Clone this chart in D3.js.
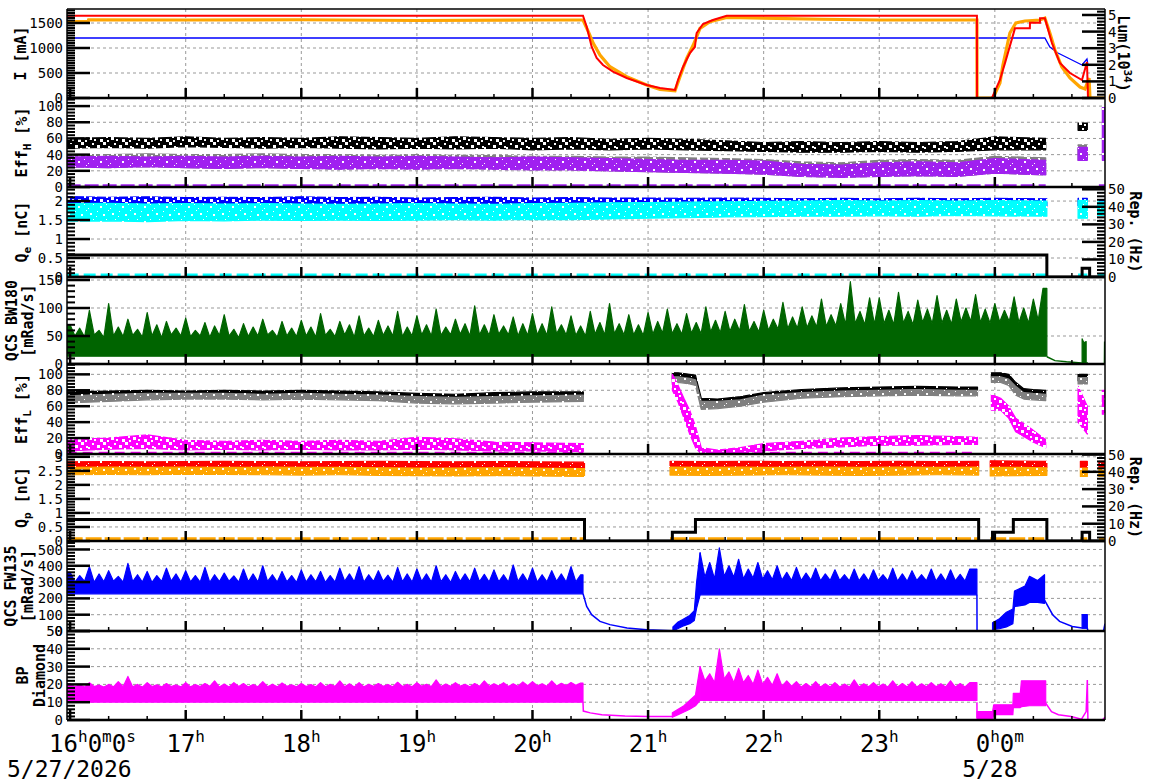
<!DOCTYPE html>
<html>
<head>
<meta charset="utf-8">
<script src="https://cdn.jsdelivr.net/npm/d3@7"></script>
<style>
body { margin: 0; background: #fff; }
svg { display: block; font-family: "DejaVu Sans Mono", monospace; }
</style>
</head>
<body>
<svg id="chart" width="1172" height="782"></svg>
<script>
// time is given in hours after 16:00 on 5/27/2026

// x axis labels
var hourTicks = [0, 1, 2, 3, 4, 5, 6, 7, 8];
var hourLabels = ["16h0m0s", "17h", "18h", "19h", "20h", "21h", "22h", "23h", "0h0m"];
var dateLabels = ["5/27/2026", "", "", "", "", "", "", "", "5/28"];

// ---- panel 1 : beam currents [mA]
var curRedT = [-0.03, 4.437, 4.469, 4.512, 4.555, 4.610, 4.696, 4.815, 4.988, 5.103, 5.233, 5.259, 5.302, 5.362, 5.405, 5.420, 5.475, 5.561, 5.680, 7.845, 7.846, 7.975, 8.044, 8.087, 8.174, 8.303, 8.304, 8.390, 8.391, 8.433, 8.494, 8.563, 8.650, 8.754, 8.797, 8.806, 8.96];
var curRedV = [1646, 1646, 1426, 1026, 800, 660, 526, 400, 260, 200, 160, 360, 620, 900, 1020, 1300, 1480, 1560, 1646, 1646, 0, 0, 360, 693, 1393, 1393, 1507, 1507, 1593, 1593, 1100, 700, 500, 360, 720, 0, 0];
var curOrT = [-0.03, 0.155, 0.16, 1.0, 2.0, 3.0, 4.0, 4.437, 4.483, 4.526, 4.584, 4.670, 4.815, 4.988, 5.103, 5.233, 5.276, 5.334, 5.391, 5.449, 5.535, 5.680, 6.5, 7.0, 7.845, 7.846, 7.984, 8.044, 8.070, 8.130, 8.182, 8.260, 8.390, 8.433, 8.476, 8.520, 8.580, 8.650, 8.737, 8.780, 8.815, 8.823, 8.96];
var curOrV = [1530, 1530, 1565, 1560, 1565, 1550, 1560, 1560, 1326, 1093, 860, 626, 426, 260, 173, 146, 426, 793, 1060, 1393, 1526, 1613, 1575, 1560, 1560, 0, 0, 300, 660, 1300, 1500, 1540, 1560, 1600, 1300, 960, 620, 400, 220, 180, 400, 0, 0];
var curBlT = [-0.03, 8.433, 8.476, 8.546, 8.650, 8.754, 8.797, 8.806];
var curBlV = [1200, 1200, 1020, 900, 780, 660, 780, 660];

// ---- panel 2 : EffH [%]
var effHT = [-0.03, 0.33, 0.67, 1, 1.33, 1.67, 2, 2.33, 2.67, 3, 3.33, 3.67, 4, 4.33, 4.67, 5, 5.33, 5.67, 6, 6.33, 6.67, 7, 7.33, 7.67, 8, 8.44, 8.45, 8.72, 8.80, 8.81, 8.93, 8.96];
var effHPurLo = [25, 24, 25, 24, 23, 24, 23, 22, 23, 22, 23, 22, 21, 21, 20, 19, 18, 17, 16, 13, 12, 13, 14, 13, 17, 15, null, 33, 33, null, 33, 33];
var effHPurHi = [37, 38, 37, 38, 37, 38, 37, 38, 37, 38, 37, 36, 37, 36, 35, 34, 33, 33, 32, 28, 27, 30, 31, 30, 35, 33, null, 49, 49, null, 98, 98];
var effHGrayHi = [40, 40, 41, 40, 40, 41, 40, 40, 39, 40, 39, 39, 38, 38, 37, 37, 36, 35, 34, 31, 30, 33, 34, 33, 38, 36, null, 52, 52, null, null, null];
var effHBlackLo = [48, 49, 48, 50, 49, 48, 49, 48, 47, 48, 47, 48, 46, 47, 46, 47, 46, 45, 44, 43, 43, 44, 43, 44, 46, 46, null, 70, 70, null, null, null];
var effHBlackHi = [60, 61, 60, 62, 60, 61, 60, 62, 61, 60, 62, 61, 60, 61, 59, 60, 59, 57, 55, 56, 55, 56, 55, 56, 62, 60, null, 79, 79, null, null, null];
var effHZeroT = [-0.03, 8.44, 8.45, 8.90, 8.96];
var effHZeroV = [1.5, 1.5, null, 1.5, 1.5];

// ---- panel 3 : Qe [nC] and e- rep. rate [Hz]
var qeT = [-0.03, 0.33, 0.67, 1, 1.33, 1.67, 2, 2.33, 2.67, 3, 3.33, 3.67, 4, 4.33, 4.67, 5, 5.33, 5.67, 6, 6.33, 6.67, 7, 7.33, 7.67, 8, 8.45, 8.46, 8.72, 8.80, 8.81, 8.89, 8.96];
var qeBlueLo = [1.82, 1.83, 1.82, 1.84, 1.83, 1.82, 1.84, 1.83, 1.82, 1.83, 1.84, 1.83, 1.82, 1.83, 1.84, 1.83, 1.84, 1.85, 1.84, 1.85, 1.86, 1.85, 1.86, 1.85, 1.86, 1.85, null, 1.85, 1.85, null, 1.85, 1.85];
var qeBlueHi = [2.12, 2.10, 2.11, 2.09, 2.10, 2.09, 2.11, 2.09, 2.10, 2.08, 2.09, 2.10, 2.08, 2.09, 2.08, 2.08, 2.07, 2.08, 2.07, 2.06, 2.07, 2.06, 2.07, 2.06, 2.07, 2.06, null, 2.07, 2.07, null, 2.02, 2.02];
var qeCyanLo = [1.47, 1.48, 1.46, 1.49, 1.48, 1.50, 1.49, 1.50, 1.49, 1.50, 1.51, 1.50, 1.52, 1.51, 1.53, 1.55, 1.56, 1.58, 1.59, 1.60, 1.60, 1.61, 1.60, 1.62, 1.61, 1.60, null, 1.55, 1.55, null, 1.62, 1.62];
var qeCyanHi = [1.93, 1.94, 1.92, 1.93, 1.92, 1.93, 1.92, 1.91, 1.92, 1.93, 1.92, 1.91, 1.93, 1.94, 1.95, 1.96, 1.97, 1.98, 1.99, 2.0, 2.01, 2.0, 2.01, 2.0, 2.01, 2.0, null, 2.02, 2.02, null, 1.98, 1.98];
var qeZeroT = [-0.03, 8.45, 8.46, 8.72, 8.80, 8.81, 8.89, 8.96];
var qeZeroV = [0.05, 0.05, null, 0.05, 0.05, null, 0.05, 0.05];
var repET = [-0.03, 8.45, 8.755, 8.82, 8.96];
var repEV = [12.5, 0, 5, 0, 0];

// ---- panel 4 : QCS BW180 [mRad/s], one value every 2.5 min from 16:00
var bw180Top = [
  70, 50, 64, 48, 96, 52, 60, 47, 108, 50, 66, 49, 80, 51, 62, 48, 92, 50, 70, 47, 76, 52, 64, 50,
  82, 49, 60, 50, 74, 48, 68, 51, 88, 50, 62, 47, 72, 49, 66, 50, 80, 52, 60, 48, 76, 50, 64, 49,
  78, 50, 66, 48, 90, 51, 62, 49, 76, 52, 70, 48, 86, 50, 64, 49, 78, 51, 68, 50, 94, 49, 66, 50,
  86, 52, 70, 50, 98, 51, 66, 52, 80, 53, 72, 50, 104, 52, 70, 51, 88, 53, 68, 52, 84, 50, 72, 51,
  90, 52, 72, 51, 102, 54, 70, 52, 86, 51, 68, 50, 94, 53, 74, 52, 108, 54, 72, 52, 88, 52, 70, 51,
  92, 53, 76, 55, 98, 54, 72, 53, 90, 55, 74, 54, 102, 57, 78, 56, 94, 58, 80, 59, 106, 58, 76, 57,
  96, 60, 80, 62, 110, 63, 84, 64, 102, 65, 86, 66, 116, 67, 88, 68, 108, 70, 147, 72, 94, 70, 118, 71,
  118, 72, 96, 70, 128, 73, 94, 70, 114, 74, 98, 72, 122, 73, 96, 71, 116, 75, 100, 76, 124, 74, 98, 73,
  108, 75, 96, 76, 120, 74, 100, 73, 116, 78, 135];
var bw180Low = 14;
var bw180TailT = [8.45, 8.52, 8.62, 8.75, 8.80, 8.805, 8.948, 8.95];
var bw180TailV = [13, 6, 4, 2, 2, 0, 0, 40];
var bw180BlockT = [8.755, 8.77, 8.79];
var bw180BlockLo = [3, 3, 3];
var bw180BlockHi = [45, 38, 40];

// ---- panel 5 : EffL [%]
var effLT = [-0.03, 0.33, 0.67, 1, 1.33, 1.67, 2, 2.33, 2.67, 3, 3.33, 3.67, 4, 4.44, 4.45,
  5.21, 5.26, 5.31, 5.36, 5.41, 5.46, 5.6, 5.8, 6.0, 6.33, 6.67, 7, 7.33, 7.67, 7.85, 7.86,
  7.97, 8.05, 8.12, 8.18, 8.25, 8.33, 8.44, 8.45, 8.72, 8.80, 8.81, 8.93, 8.96];
var effLBlackLo = [69, 71, 72, 72, 73, 72, 72, 71, 70, 68, 67, 68, 69, 70, null, 94, 95, 94, 93, 92, 60, 60, 63, 69, 74, 76, 77, 78, 78, 78, null, 96, 95, 92, 80, 74, 73, 72, null, 92, 92, null, null, null];
var effLBlackHi = [78, 79, 80, 79, 80, 79, 80, 79, 78, 76, 75, 77, 78, 78, null, 102, 102, 101, 100, 99, 70, 69, 72, 77, 81, 83, 84, 85, 84, 84, null, 102, 102, 100, 90, 82, 81, 80, null, 100, 100, null, null, null];
var effLGrayLo = [64, 66, 68, 69, 69, 68, 69, 68, 67, 64, 63, 64, 65, 66, null, 89, 90, 89, 88, 86, 56, 57, 60, 65, 70, 72, 73, 74, 73, 73, null, 90, 90, 86, 74, 69, 68, 67, null, 88, 88, null, null, null];
var effLGrayHi = [73, 75, 76, 76, 76, 75, 76, 75, 74, 72, 71, 72, 73, 74, null, 97, 97, 96, 95, 93, 66, 66, 68, 74, 77, 79, 80, 81, 80, 80, null, 97, 97, 94, 85, 77, 76, 75, null, 96, 96, null, null, null];
var effLMagLo = [4, 6, 7, 5, 6, 5, 6, 5, 5, 6, 5, 4, 4, 3, null, 80, 65, 45, 25, 8, 0, 0, 1, 4, 7, 9, 11, 11, 12, 12, null, 55, 55, 45, 28, 22, 15, 8, null, 40, 25, null, 50, 50];
var effLMagHi = [18, 20, 24, 17, 16, 17, 16, 17, 16, 21, 19, 15, 14, 13, null, 100, 86, 70, 55, 35, 8, 5, 8, 13, 16, 20, 22, 23, 22, 21, null, 75, 70, 60, 45, 38, 30, 18, null, 85, 60, null, 80, 80];
var effLZeroT = [-0.03, 4.44, 4.45, 5.5, 7.85];
var effLZeroV = [0.8, 0.8, null, 0.8, 0.8];

// ---- panel 6 : Qp [nC] and e+ rep. rate [Hz]
var qpT = [-0.03, 0.33, 0.67, 1, 1.33, 1.67, 2, 2.33, 2.67, 3, 3.33, 3.67, 4, 4.45, 4.46,
  5.19, 5.5, 5.83, 6.17, 6.5, 6.83, 7.17, 7.5, 7.86, 7.87, 7.96, 8.2, 8.45, 8.46, 8.74, 8.80, 8.81, 8.90, 8.96];
var qpRedLo = [2.60, 2.61, 2.60, 2.62, 2.61, 2.60, 2.61, 2.62, 2.61, 2.60, 2.61, 2.60, 2.59, 2.58, null, 2.62, 2.63, 2.62, 2.63, 2.62, 2.63, 2.62, 2.63, 2.62, null, 2.64, 2.63, 2.62, null, 2.62, 2.62, null, 2.62, 2.62];
var qpRedHi = [2.82, 2.83, 2.82, 2.83, 2.84, 2.83, 2.82, 2.83, 2.84, 2.83, 2.82, 2.83, 2.82, 2.81, null, 2.84, 2.83, 2.84, 2.83, 2.84, 2.83, 2.84, 2.83, 2.84, null, 2.86, 2.85, 2.84, null, 2.84, 2.84, null, 2.84, 2.84];
var qpOrLo = [2.36, 2.37, 2.36, 2.38, 2.37, 2.36, 2.35, 2.36, 2.34, 2.33, 2.32, 2.33, 2.32, 2.30, null, 2.35, 2.34, 2.35, 2.36, 2.35, 2.34, 2.35, 2.36, 2.35, null, 2.32, 2.33, 2.34, null, 2.30, 2.30, null, 2.30, 2.30];
var qpOrHi = [2.62, 2.63, 2.62, 2.63, 2.62, 2.63, 2.62, 2.62, 2.61, 2.60, 2.60, 2.61, 2.60, 2.58, null, 2.63, 2.62, 2.63, 2.62, 2.63, 2.62, 2.63, 2.62, 2.63, null, 2.62, 2.62, 2.61, null, 2.60, 2.60, null, 2.60, 2.60];
var qpZeroT = [-0.03, 4.45, 4.46, 5.19, 7.86, 7.87, 7.96, 8.45, 8.46, 8.74, 8.80, 8.81, 8.90, 8.96];
var qpZeroV = [0.08, 0.08, null, 0.08, 0.08, null, 0.08, 0.08, null, 0.08, 0.08, null, 0.08, 0.08];
var repPT = [-0.03, 4.45, 5.21, 5.41, 7.86, 7.98, 8.16, 8.45, 8.755, 8.82, 8.96];
var repPV = [12.5, 0, 5, 12.5, 0, 5, 12.5, 0, 5, 0, 0];

// ---- panel 7 : QCS FW135 [mRad/s], 2.5 min values
var fw135TopA = [
  360, 300, 340, 305, 395, 298, 350, 302, 370, 305, 335, 300, 415, 303, 345, 300, 365, 298, 340, 304, 385, 306, 350, 300,
  370, 302, 340, 300, 390, 298, 345, 303, 355, 305, 338, 300, 380, 302, 350, 300, 400, 304, 345, 300, 365, 302, 340, 298,
  375, 300, 345, 302, 365, 298, 340, 300, 385, 305, 350, 302, 395, 300, 345, 303, 370, 305, 342, 300, 390, 302, 350, 300,
  380, 304, 350, 300, 400, 302, 345, 298, 365, 305, 350, 302, 385, 303, 348, 300, 375, 302, 345, 300, 405, 304, 350, 302,
  385, 300, 345, 302, 370, 305, 350, 300, 395, 302, 345];
var fw135LowA = 228;
var fw135TopB = [
  480, 330, 420, 320, 510, 335, 400, 330, 440, 320, 380, 325, 420, 318, 370, 315, 400, 312, 360, 310,
  390, 310, 355, 312, 385, 308, 350, 310, 375, 310, 345, 308, 380, 308, 350, 306, 375, 310, 345, 308,
  385, 306, 350, 305, 370, 310, 345, 308, 380, 306, 350, 305, 375, 308, 348, 306, 380];
var fw135LowB = 222;
var fw135BandT = [5.215, 5.26, 5.30, 5.36, 5.40, 5.42, 5.45, null, 7.98, 8.04, 8.10, 8.156, 8.17, 8.26, 8.30, 8.37, 8.43, null, 8.755, 8.80];
var fw135BandLo = [0, 15, 30, 45, 65, 140, 222, null, 8, 15, 25, 45, 150, 160, 175, 175, 170, null, 18, 18];
var fw135BandHi = [25, 55, 70, 95, 125, 300, 480, null, 50, 75, 115, 135, 245, 275, 335, 310, 345, null, 100, 100];
var fw135TraceT = [4.437, 4.44, 4.469, 4.512, 4.584, 4.670, 4.818, 4.99, 5.21, 5.215, null, 7.845, 7.846, 7.98, null, 8.43, 8.50, 8.56, 8.67, 8.755, 8.80, 8.805, 8.94, 8.953];
var fw135TraceV = [228, 222, 151, 100, 59, 39, 18, 8, 2, 2, null, 222, 0, 0, null, 190, 100, 59, 28, 18, 18, 0, 0, 45];

// ---- panel 8 : BP Diamond, 2.5 min values
var bpTopA = [
  20.5, 18.6, 19.8, 18.5, 21, 18.8, 19.6, 18.5, 20, 18.6, 21.5, 18.7, 24.5, 18.6, 20, 18.5, 21, 18.8, 19.8, 18.6, 20.5, 18.8, 19.7, 18.6,
  21, 18.6, 19.9, 18.8, 20.5, 18.9, 22, 18.5, 20.2, 18.6, 21, 18.8, 20.5, 18.6, 19.9, 18.7, 21.5, 18.7, 20.1, 18.6, 20.8, 18.9, 19.8, 18.7,
  20.5, 18.8, 19.9, 18.6, 21, 18.7, 20, 18.9, 22, 18.7, 20.3, 18.6, 21, 18.6, 20, 18.9, 20.5, 18.9, 19.9, 18.7, 21.2, 18.8, 20, 18.7,
  21, 19, 20.1, 18.8, 22.5, 18.8, 20.2, 19, 21, 19, 20, 18.7, 20.5, 18.9, 22, 19, 20.4, 19.1, 21, 18.8, 20.3, 19, 21.4, 19.2,
  21.5, 19.2, 20.4, 19, 22, 19.1, 20.6, 19.3, 21, 19.5, 20.8];
var bpLowA = 10;
var bpTopB = [
  30, 22, 26, 21, 40, 23, 27, 21, 29, 21, 25, 20, 28, 20, 24, 19.5, 26, 19, 22, 19,
  21.5, 18.5, 20.5, 18.6, 21.5, 18.5, 20.3, 18.6, 21, 18.6, 20.2, 18.5, 22.5, 18.5, 20.4, 18.7, 21, 18.7, 20.2, 18.6,
  22, 18.5, 20.5, 18.6, 21.5, 18.6, 20.3, 18.7, 21, 18.7, 20.4, 18.6, 22, 18.5, 20.5, 18.6, 21];
var bpLowB = 11;
var bpBandT = [5.21, 5.26, 5.31, 5.36, 5.41, 5.45, null, 7.846, 7.98, 7.99, 8.156, 8.16, 8.22, 8.23, 8.30, 8.44];
var bpBandLo = [1.5, 3, 4.5, 6, 8, 11, null, 0.5, 0.5, 3, 3, 7, 7, 7.5, 8, 8];
var bpBandHi = [4, 6, 8, 11, 14, 30, null, 4.7, 4.7, 8.5, 8.5, 15, 15, 22, 22, 22];
var bpTraceT = [4.437, 4.44, 4.50, 4.60, 4.80, 5.0, 5.21, null, 7.845, 7.846, null, 8.44, 8.49, 8.55, 8.66, 8.75, 8.79, 8.80, 8.805, 8.93, 8.953];
var bpTraceV = [10, 5, 4, 3, 2.2, 2, 2, null, 10, 1, null, 9.5, 4.7, 3, 2, 0.5, 4.7, 22.5, 0, 0, 1.5];

//Layout of the stacked panels
var X0 = 67, X1 = 1105;
var x = d3.scaleLinear().domain([-0.027, 8.953]).range([X0, X1]);

var panels = [
  {top: 9, bot: 98, max: 1780, ticks: [0, 500, 1000, 1500], minor: 50,
   title: [[["I [mA]", ""]]], titleX: [26],
   right: {max: 5.36, ticks: [0, 1, 2, 3, 4, 5], minor: 0.2, title: [["Lum(10", ""], ["34", "sup"], [")", ""]], titleX: 1118}},
  {top: 98, bot: 187, max: 110, ticks: [0, 20, 40, 60, 80, 100], minor: 4,
   title: [[["Eff", ""], ["H", "sub"], [" [%]", ""]]], titleX: [27]},
  {top: 187, bot: 277, max: 2.37, ticks: [0, 0.5, 1, 1.5, 2], minor: 0.1,
   title: [[["Q", ""], ["e", "sub"], [" [nC]", ""]]], titleX: [27],
   right: {max: 51.3, ticks: [0, 10, 20, 30, 40, 50], minor: 2, title: [["Rep. (Hz)", ""]], titleX: 1130}},
  {top: 277, bot: 364, max: 155.4, ticks: [0, 50, 100, 150], minor: 10,
   title: [[["QCS BW180", ""]], [["[mRad/s]", ""]]], titleX: [17, 33]},
  {top: 364, bot: 454, max: 113, ticks: [0, 20, 40, 60, 80, 100], minor: 4,
   title: [[["Eff", ""], ["L", "sub"], [" [%]", ""]]], titleX: [27]},
  {top: 454, bot: 541, max: 3.1, ticks: [0, 0.5, 1, 1.5, 2, 2.5, 3], minor: 0.1,
   title: [[["Q", ""], ["p", "sub"], [" [nC]", ""]]], titleX: [27],
   right: {max: 50.3, ticks: [0, 10, 20, 30, 40, 50], minor: 2, title: [["Rep. (Hz)", ""]], titleX: 1130}},
  {top: 541, bot: 631, max: 552, ticks: [0, 100, 200, 300, 400, 500], minor: 20,
   title: [[["QCS FW135", ""]], [["[mRad/s]", ""]]], titleX: [16, 33]},
  {top: 631, bot: 720, max: 50, ticks: [0, 10, 20, 30, 40, 50], minor: 2,
   title: [[["BP", ""]], [["Diamond", ""]]], titleX: [28, 45]}
];

var svg = d3.select("#chart");
var defs = svg.append("defs");

//Speckled fills that stand in for the dense scatter of single shots
var holesDense = [[2, 3, 2], [9, 1, 1], [15, 4, 2], [20, 0, 1], [5, 9, 1], [12, 11, 2], [18, 9, 1], [0, 13, 1], [8, 6, 1]];
var holesMedium = [[1, 2, 3], [7, 0, 2], [12, 4, 3], [18, 1, 2], [4, 8, 2], [9, 10, 3], [15, 7, 3], [20, 11, 2], [0, 12, 2], [14, 13, 2], [6, 4, 2], [19, 5, 2]];
function speckle(id, color, holes) {
  var pat = defs.append("pattern").attr("id", id).attr("patternUnits", "userSpaceOnUse")
    .attr("width", 22).attr("height", 15);
  pat.append("rect").attr("width", 22).attr("height", 15).attr("fill", color);
  holes.forEach(function(h) {
    pat.append("rect").attr("x", h[0]).attr("y", h[1]).attr("width", h[2]).attr("height", h[2]).attr("fill", "#fff");
  });
  return "url(#" + id + ")";
}
var fills = {
  black: speckle("pBlack", "#000000", holesMedium),
  gray: speckle("pGray", "#808080", holesMedium),
  purple: speckle("pPurple", "#a020f0", holesDense),
  blue: speckle("pBlue", "#0000ff", holesMedium),
  cyan: speckle("pCyan", "#00ffff", holesDense),
  blackL: speckle("pBlackL", "#000000", holesDense),
  grayL: speckle("pGrayL", "#808080", holesDense),
  magenta: speckle("pMag", "#ff00ff", holesMedium),
  red: speckle("pRed", "#ff0000", holesDense),
  orange: speckle("pOrange", "#ffa500", holesDense)
};

//Builds the y scales for every panel
panels.forEach(function(p, i) {
  p.y = d3.scaleLinear().domain([0, p.max]).range([p.bot, p.top]);
  if (p.right) p.yr = d3.scaleLinear().domain([0, p.right.max]).range([p.bot, p.top]);
  defs.append("clipPath").attr("id", "clip" + i)
    .append("rect").attr("x", X0).attr("y", p.top).attr("width", X1 - X0).attr("height", p.bot - p.top);
  p.g = svg.append("g").attr("clip-path", "url(#clip" + i + ")");
});

//Dashed grid
var grid = svg.insert("g", "g");
panels.forEach(function(p) {
  p.ticks.filter(function(v) { return v > 0; }).forEach(function(v) {
    grid.append("line").attr("x1", X0).attr("x2", X1).attr("y1", p.y(v)).attr("y2", p.y(v))
      .attr("stroke", "#999").attr("stroke-dasharray", "3,3");
  });
});
hourTicks.filter(function(h) { return h > 0; }).forEach(function(h) {
  grid.append("line").attr("x1", x(h)).attr("x2", x(h)).attr("y1", 9).attr("y2", 720)
    .attr("stroke", "#999").attr("stroke-dasharray", "3,3");
});

//Drawing helpers
function band(g, y, T, lo, hi, fill, edge) {
  var pts = T.map(function(t, i) { return {t: t, lo: lo[i], hi: hi[i]}; });
  var area = d3.area()
    .defined(function(d) { return d.t != null && d.lo != null && d.hi != null; })
    .x(function(d) { return x(d.t); })
    .y0(function(d) { return y(d.lo); })
    .y1(function(d) { return y(d.hi); });
  g.append("path").attr("d", area(pts)).attr("fill", fill)
    .attr("stroke", edge || fill).attr("stroke-width", 1.2).attr("stroke-linejoin", "round");
}

function trace(g, y, T, V, color, w, curve, dash) {
  var pts = T.map(function(t, i) { return {t: t, v: V[i]}; });
  var line = d3.line()
    .defined(function(d) { return d.t != null && d.v != null; })
    .x(function(d) { return x(d.t); })
    .y(function(d) { return y(d.v); })
    .curve(curve || d3.curveLinear);
  var path = g.append("path").attr("d", line(pts)).attr("fill", "none")
    .attr("stroke", color).attr("stroke-width", w);
  if (dash) path.attr("stroke-dasharray", dash);
}

//2.5-minute series drawn as a filled band from a constant floor
function slots(g, y, start, vals, tFirst, tLast, low, color) {
  var T = vals.map(function(v, i) { return start + i / 24; });
  var V = vals.slice();
  if (tFirst != null) { T.unshift(tFirst); V.unshift(vals[0]); }
  if (tLast != null) { T.push(tLast); V.push(vals[vals.length - 1]); }
  band(g, y, T, V.map(function() { return low; }), V, color);
}

// panel 1
var p = panels[0];
trace(p.g, p.y, curBlT, curBlV, "#0000ff", 1.3);
trace(p.g, p.y, curOrT, curOrV, "#ffa500", 3.2);
trace(p.g, p.y, curRedT, curRedV, "#ff0000", 2);

// panel 2
p = panels[1];
band(p.g, p.y, effHT, effHPurLo, effHGrayHi, fills.gray);
band(p.g, p.y, effHT, effHBlackLo, effHBlackHi, fills.black);
band(p.g, p.y, effHT, effHPurLo, effHPurHi, fills.purple);
trace(p.g, p.y, effHZeroT, effHZeroV, "#a020f0", 3, null, "14,4");

// panel 3
p = panels[2];
band(p.g, p.y, qeT, qeBlueLo, qeBlueHi, fills.blue);
band(p.g, p.y, qeT, qeCyanLo, qeCyanHi, fills.cyan);
trace(p.g, p.y, qeZeroT, qeZeroV, "#00ffff", 3, null, "12,5");
trace(p.g, p.yr, repET, repEV, "#000000", 3, d3.curveStepAfter);

// panel 4
p = panels[3];
slots(p.g, p.y, 0, bw180Top, -0.03, 8.45, bw180Low, "#006400");
trace(p.g, p.y, bw180TailT, bw180TailV, "#006400", 1.5);
band(p.g, p.y, bw180BlockT, bw180BlockLo, bw180BlockHi, "#006400");

// panel 5
p = panels[4];
band(p.g, p.y, effLT, effLBlackLo, effLBlackHi, fills.blackL);
band(p.g, p.y, effLT, effLGrayLo, effLGrayHi, fills.grayL);
band(p.g, p.y, effLT, effLMagLo, effLMagHi, fills.magenta);
trace(p.g, p.y, effLZeroT, effLZeroV, "#ff00ff", 3, null, "10,6");

// panel 6
p = panels[5];
band(p.g, p.y, qpT, qpRedLo, qpRedHi, fills.red);
band(p.g, p.y, qpT, qpOrLo, qpOrHi, fills.orange);
trace(p.g, p.y, qpZeroT, qpZeroV, "#ffa500", 3, null, "16,3");
trace(p.g, p.yr, repPT, repPV, "#000000", 3, d3.curveStepAfter);

// panel 7
p = panels[6];
slots(p.g, p.y, 0, fw135TopA, -0.03, 4.437, fw135LowA, "#0000ff");
slots(p.g, p.y, 5.45, fw135TopB, null, 7.845, fw135LowB, "#0000ff");
band(p.g, p.y, fw135BandT, fw135BandLo, fw135BandHi, "#0000ff");
trace(p.g, p.y, fw135TraceT, fw135TraceV, "#0000ff", 1.5);

// panel 8
p = panels[7];
slots(p.g, p.y, 0, bpTopA, -0.03, 4.437, bpLowA, "#ff00ff");
slots(p.g, p.y, 5.45, bpTopB, null, 7.845, bpLowB, "#ff00ff");
band(p.g, p.y, bpBandT, bpBandLo, bpBandHi, "#ff00ff");
trace(p.g, p.y, bpTraceT, bpTraceV, "#ff00ff", 1.5);

//Frame, ticks and labels
var axes = svg.append("g");
function minorValues(max, step, majors) {
  var out = [];
  for (var k = 0; k * step <= max + 1e-9; k++) {
    var v = Math.round(k * step * 1000) / 1000;
    if (majors.indexOf(v) < 0) out.push(v);
  }
  return out;
}

function rotTitle(parent, tx, cy, angle, parts, size) {
  var t = parent.append("text")
    .attr("transform", "translate(" + tx + "," + cy + ") rotate(" + angle + ")")
    .attr("text-anchor", "middle").attr("font-weight", "bold").attr("font-size", size);
  var shift = 0;
  parts.forEach(function(pt) {
    var s = t.append("tspan").text(pt[0]);
    var target = pt[1] === "sub" ? 4 : pt[1] === "sup" ? -6 : 0;
    s.attr("dy", target - shift);
    shift = target;
    if (pt[1]) s.attr("font-size", 11);
  });
}

panels.forEach(function(p) {
  var cy = (p.top + p.bot) / 2;
  // left ticks
  minorValues(p.max, p.minor, p.ticks).forEach(function(v) {
    axes.append("line").attr("x1", X0).attr("x2", X0 + 8).attr("y1", p.y(v)).attr("y2", p.y(v))
      .attr("stroke", "#000").attr("stroke-width", 2);
  });
  p.ticks.forEach(function(v) {
    axes.append("line").attr("x1", X0).attr("x2", X0 + 23).attr("y1", p.y(v)).attr("y2", p.y(v))
      .attr("stroke", "#000").attr("stroke-width", 2.5);
    axes.append("text").attr("x", 63).attr("y", p.y(v)).attr("dy", "0.36em")
      .attr("text-anchor", "end").attr("font-size", 14).text(String(v));
  });
  // right axis
  if (p.right) {
    var r = p.right;
    minorValues(r.max, r.minor, r.ticks).forEach(function(v) {
      axes.append("line").attr("x1", X1 - 8).attr("x2", X1).attr("y1", p.yr(v)).attr("y2", p.yr(v))
        .attr("stroke", "#000").attr("stroke-width", 2);
    });
    r.ticks.forEach(function(v) {
      axes.append("line").attr("x1", X1 - 23).attr("x2", X1).attr("y1", p.yr(v)).attr("y2", p.yr(v))
        .attr("stroke", "#000").attr("stroke-width", 2.5);
      axes.append("text").attr("x", 1108).attr("y", p.yr(v)).attr("dy", "0.36em")
        .attr("font-size", 14).text(String(v));
    });
    rotTitle(axes, r.titleX, cy, 90, r.title, 15);
  }
  // bottom time ticks
  for (var k = 0; k <= 26; k++) {
    var tx = x(k / 3), major = k % 3 === 0;
    axes.append("line").attr("x1", tx).attr("x2", tx).attr("y1", p.bot).attr("y2", p.bot - (major ? 10 : 4))
      .attr("stroke", "#000").attr("stroke-width", major ? 2.5 : 1.5);
  }
  axes.append("line").attr("x1", X0).attr("x2", X1).attr("y1", p.bot).attr("y2", p.bot)
    .attr("stroke", "#000").attr("stroke-width", 2.5);
  // left titles
  p.title.forEach(function(line, j) {
    rotTitle(axes, p.titleX[j], cy, -90, line, 15);
  });
});

axes.append("line").attr("x1", X0).attr("x2", X1).attr("y1", 9).attr("y2", 9).attr("stroke", "#000").attr("stroke-width", 1.5);
axes.append("line").attr("x1", X0).attr("x2", X0).attr("y1", 9).attr("y2", 720).attr("stroke", "#000").attr("stroke-width", 1.5);
axes.append("line").attr("x1", X1).attr("x2", X1).attr("y1", 9).attr("y2", 720).attr("stroke", "#000").attr("stroke-width", 1.5);

//Time labels with raised unit letters
hourTicks.forEach(function(h, i) {
  var first = i === 0;
  var t = axes.append("text").attr("y", 752).attr("font-size", 24)
    .attr("x", first ? x(h) - 21 : x(h) + (i === hourTicks.length - 1 ? 5 : 0))
    .attr("text-anchor", first ? "start" : "middle");
  var raised = false;
  hourLabels[i].replace(/(\d+)([hms]?)/g, function(m, d, u) {
    t.append("tspan").text(d).attr("dy", raised ? 10 : 0);
    raised = false;
    if (u) { t.append("tspan").text(u).attr("font-size", 16).attr("dy", -10); raised = true; }
    return m;
  });
  if (dateLabels[i]) {
    axes.append("text").attr("y", 777).attr("font-size", 23)
      .attr("x", first ? 7 : x(h) - 5).attr("text-anchor", first ? "start" : "middle")
      .text(dateLabels[i]);
  }
});
</script>
</body>
</html>
